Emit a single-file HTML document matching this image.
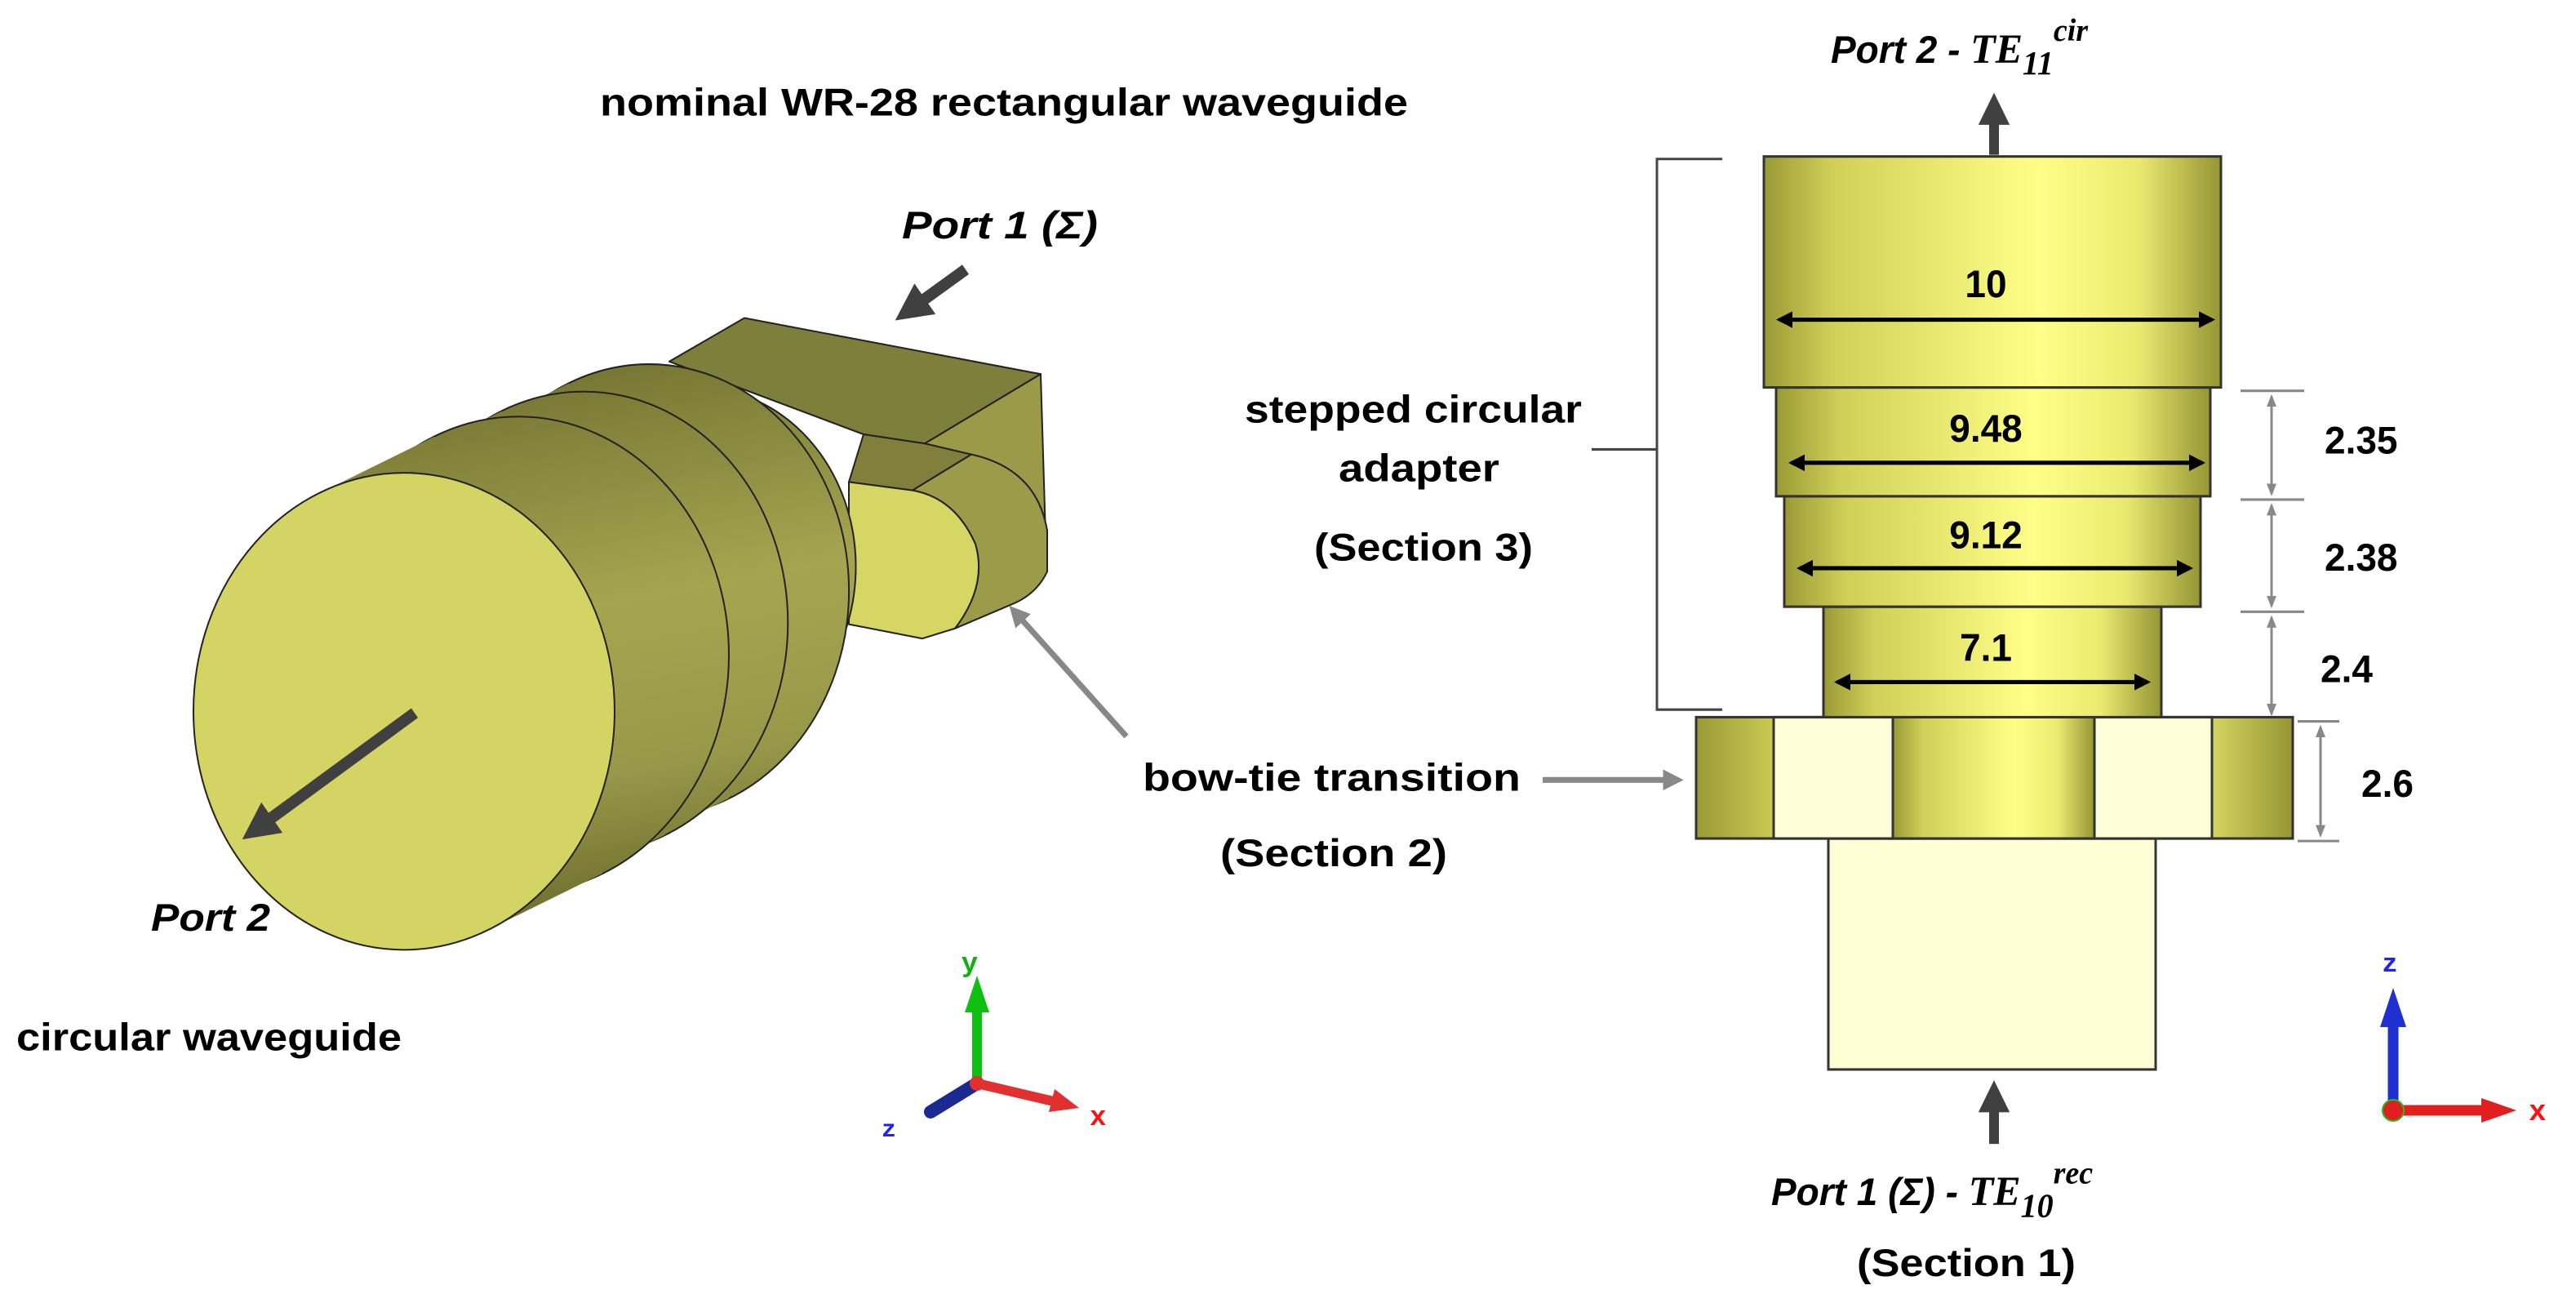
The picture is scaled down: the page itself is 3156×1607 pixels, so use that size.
<!DOCTYPE html>
<html><head><meta charset="utf-8"><style>
html,body{margin:0;padding:0;background:#fff;}
svg{display:block;}
text{font-family:"Liberation Sans",sans-serif;font-weight:bold;fill:#000;}
.it{font-style:italic;}
.ser{font-family:"Liberation Serif",serif;font-style:italic;font-weight:bold;}
</style></head><body>
<svg width="3156" height="1607" viewBox="0 0 3156 1607" xmlns="http://www.w3.org/2000/svg">
<defs>
<linearGradient id="side" gradientUnits="userSpaceOnUse" x1="600" y1="440" x2="720" y2="1100">
<stop offset="0" stop-color="#737332"/><stop offset="0.45" stop-color="#a5a550"/><stop offset="0.75" stop-color="#98984a"/><stop offset="1" stop-color="#6c6c2d"/></linearGradient>
<linearGradient id="cyl" x1="0" y1="0" x2="1" y2="0">
<stop offset="0" stop-color="#9a9a36"/><stop offset="0.15" stop-color="#d0d058"/><stop offset="0.6" stop-color="#ffff88"/><stop offset="0.82" stop-color="#eaea70"/><stop offset="1" stop-color="#959535"/></linearGradient>
<marker id="ah" viewBox="0 0 10 10" refX="5" refY="5" markerWidth="3.2" markerHeight="3.2" orient="auto"><path d="M0,0L10,5L0,10z" fill="#404040"/></marker>
<marker id="ag" viewBox="0 0 10 10" refX="5" refY="5" markerWidth="3.6" markerHeight="3.6" orient="auto"><path d="M0,0L10,5L0,10z" fill="#888"/></marker>
<marker id="ak" viewBox="0 0 10 10" refX="8" refY="5" markerWidth="4" markerHeight="4" orient="auto-start-reverse"><path d="M0,0L10,5L0,10z" fill="#000"/></marker>
<marker id="agd" viewBox="0 0 10 10" refX="8" refY="5" markerWidth="5" markerHeight="5" orient="auto-start-reverse"><path d="M0,1L10,5L0,9z" fill="#888"/></marker>
</defs>
<g transform="scale(1,1.025)">
<g stroke="#222" stroke-width="2" stroke-linejoin="round">
<polygon points="820,432 912,380 1275,447 1133,530 1058,519" fill="#7f7f3c"/>
<polygon points="1275,447 1282,673 1245,717 1133,530" fill="#9a9a48"/>
<polygon points="1040,576 1058,519 1133,530 1190,543 1118,586" fill="#80803c"/>
<path d="M1118,586 L1190,543 Q1270,560 1283,634 L1283,683 Q1270,710 1240,722 L1170,751 Q1210,700 1195,650 Q1170,595 1118,586z" fill="#9b9b4a"/>
<path d="M1040,576 L1118,586 Q1170,595 1195,650 Q1210,700 1170,751 L1130,763 L1040,746z" fill="#d6d665"/>
</g>
<g stroke="#222" stroke-width="2">
<ellipse cx="855" cy="677.2" rx="193.5" ry="213.8" fill="url(#side)"/>
<polygon points="872.3,901.8 932.3,873 777.7,481.4 717.7,510.2" fill="url(#side)" stroke="none"/>
<ellipse cx="795" cy="706" rx="193.5" ry="213.8" fill="url(#side)" stroke="none"/>
<ellipse cx="795" cy="706" rx="245.1" ry="270.8" fill="url(#side)"/>
<polygon points="812.9,992.4 892.9,954 697.1,458 617.1,496.4" fill="url(#side)" stroke="none"/>
<ellipse cx="715" cy="744.4" rx="245.1" ry="270.8" fill="url(#side)" stroke="none"/>
<ellipse cx="715" cy="744.4" rx="250.3" ry="276.5" fill="url(#side)"/>
<polygon points="734.9,1036 814.9,997.6 615.1,491.2 535.1,529.6" fill="url(#side)" stroke="none"/>
<ellipse cx="635" cy="782.8" rx="250.3" ry="276.5" fill="url(#side)" stroke="none"/>
<ellipse cx="635" cy="782.8" rx="258" ry="285" fill="url(#side)"/>
<polygon points="598,1111 738,1043.8 532,521.8 392,589" fill="url(#side)" stroke="none"/>
<ellipse cx="495" cy="850" rx="258" ry="285" fill="#d4d464"/>
</g>
<line x1="508" y1="852" x2="315" y2="990" stroke="#404040" stroke-width="14" marker-end="url(#ah)"/>
<line x1="1183" y1="322" x2="1115" y2="370" stroke="#404040" stroke-width="14" marker-end="url(#ah)"/>
<line x1="1380" y1="880" x2="1245" y2="733" stroke="#888" stroke-width="7" marker-end="url(#ag)"/>
<text x="735" y="138" font-size="46" textLength="990" lengthAdjust="spacingAndGlyphs">nominal WR-28 rectangular waveguide</text>
<text class="it" x="1105" y="285" font-size="46" textLength="240" lengthAdjust="spacingAndGlyphs">Port 1 (Σ)</text>
<text class="it" x="185" y="1112" font-size="46" textLength="146" lengthAdjust="spacingAndGlyphs">Port 2</text>
<text x="20" y="1255" font-size="46" textLength="472" lengthAdjust="spacingAndGlyphs">circular waveguide</text>
<text x="1400" y="945" font-size="46" textLength="463" lengthAdjust="spacingAndGlyphs">bow-tie transition</text>
<text x="1495" y="1035" font-size="46" textLength="278" lengthAdjust="spacingAndGlyphs">(Section 2)</text>
<text x="1525" y="505" font-size="46" textLength="413" lengthAdjust="spacingAndGlyphs">stepped circular</text>
<text x="1640" y="575" font-size="46" textLength="197" lengthAdjust="spacingAndGlyphs">adapter</text>
<text x="1610" y="670" font-size="46" textLength="268" lengthAdjust="spacingAndGlyphs">(Section 3)</text>
<line x1="1890" y1="932" x2="2050" y2="932" stroke="#888" stroke-width="7" marker-end="url(#ag)"/>
<polyline points="2110,190 2030,190 2030,848 2110,848" fill="none" stroke="#444" stroke-width="3"/>
<line x1="1950" y1="537" x2="2030" y2="537" stroke="#444" stroke-width="3"/>
<g stroke="#333" stroke-width="3">
<rect x="2240" y="1002" width="401" height="276" fill="#ffffd6"/>
<rect x="2078" y="857" width="731" height="145" fill="url(#cyl)"/>
<rect x="2173" y="857" width="146" height="145" fill="#fdfdd8"/>
<rect x="2566" y="857" width="144" height="145" fill="#fdfdd8"/>
<rect x="2319" y="857" width="247" height="145" fill="url(#cyl)"/>
<rect x="2234" y="725" width="414" height="132" fill="url(#cyl)"/>
<rect x="2186" y="593" width="510" height="132" fill="url(#cyl)"/>
<rect x="2176" y="463" width="532" height="130" fill="url(#cyl)"/>
<rect x="2161" y="187" width="560" height="276" fill="url(#cyl)"/>
</g>
<g stroke="#000" stroke-width="5">
<line x1="2180" y1="382" x2="2710" y2="382" marker-start="url(#ak)" marker-end="url(#ak)"/>
<line x1="2195" y1="553" x2="2698" y2="553" marker-start="url(#ak)" marker-end="url(#ak)"/>
<line x1="2205" y1="679" x2="2683" y2="679" marker-start="url(#ak)" marker-end="url(#ak)"/>
<line x1="2251" y1="815" x2="2631" y2="815" marker-start="url(#ak)" marker-end="url(#ak)"/>
</g>
<text x="2433" y="355" font-size="46" text-anchor="middle">10</text>
<text x="2433" y="528" font-size="46" text-anchor="middle">9.48</text>
<text x="2433" y="655" font-size="46" text-anchor="middle">9.12</text>
<text x="2433" y="790" font-size="46" text-anchor="middle">7.1</text>
<g stroke="#888" stroke-width="3">
<line x1="2745" y1="467" x2="2823" y2="467"/><line x1="2745" y1="597" x2="2823" y2="597"/><line x1="2745" y1="731" x2="2823" y2="731"/>
<line x1="2815" y1="862" x2="2866" y2="862"/><line x1="2815" y1="1005" x2="2866" y2="1005"/>
<line x1="2783" y1="474" x2="2783" y2="590" marker-start="url(#agd)" marker-end="url(#agd)"/>
<line x1="2783" y1="604" x2="2783" y2="724" marker-start="url(#agd)" marker-end="url(#agd)"/>
<line x1="2783" y1="738" x2="2783" y2="853" marker-start="url(#agd)" marker-end="url(#agd)"/>
<line x1="2843" y1="869" x2="2843" y2="998" marker-start="url(#agd)" marker-end="url(#agd)"/>
</g>
<text x="2848" y="542" font-size="46">2.35</text>
<text x="2848" y="682" font-size="46">2.38</text>
<text x="2843" y="815" font-size="46">2.4</text>
<text x="2893" y="952" font-size="46">2.6</text>
<line x1="2443" y1="185" x2="2443" y2="130" stroke="#404040" stroke-width="12" marker-end="url(#ah)"/>
<line x1="2443" y1="1367" x2="2443" y2="1310" stroke="#404040" stroke-width="12" marker-end="url(#ah)"/>
<text x="2243" y="75" font-size="46"><tspan class="it">Port 2 - </tspan><tspan class="ser" font-size="50">TE</tspan><tspan class="ser" font-size="40" dy="14">11</tspan><tspan class="ser" font-size="38" dy="-40">cir</tspan></text>
<text x="2170" y="1440" font-size="46"><tspan class="it">Port 1 (Σ) - </tspan><tspan class="ser" font-size="50">TE</tspan><tspan class="ser" font-size="40" dy="14">10</tspan><tspan class="ser" font-size="38" dy="-40">rec</tspan></text>
<text x="2275" y="1525" font-size="46" textLength="268" lengthAdjust="spacingAndGlyphs">(Section 1)</text>
</g>
<g stroke-linecap="round">
<line x1="1197" y1="1327" x2="1197" y2="1215" stroke="#10c010" stroke-width="12"/>
<path d="M1197,1195 L1212,1240 L1182,1240z" fill="#10c010"/>
<line x1="1197" y1="1327" x2="1295" y2="1350" stroke="#e03030" stroke-width="12"/>
<path d="M1322,1357 L1285,1362 L1292,1334z" fill="#e03030"/>
<line x1="1197" y1="1327" x2="1140" y2="1362" stroke="#1a2a90" stroke-width="16"/>
<circle cx="1197" cy="1327" r="9" fill="#e03030"/>
</g>
<text x="1188" y="1190" font-size="34" style="fill:#10b010;font-family:'Liberation Mono',monospace" text-anchor="middle">y</text>
<text x="1335" y="1378" font-size="34" style="fill:#ff1010;font-family:'Liberation Mono',monospace">x</text>
<text x="1080" y="1392" font-size="30" style="fill:#2020ff;font-family:'Liberation Mono',monospace">z</text>
<g>
<line x1="2932" y1="1360" x2="2932" y2="1240" stroke="#2030d0" stroke-width="13"/>
<path d="M2932,1210 L2948,1258 L2916,1258z" fill="#2030d0"/>
<line x1="2932" y1="1360" x2="3050" y2="1360" stroke="#e02020" stroke-width="13"/>
<path d="M3083,1360 L3040,1375 L3040,1345z" fill="#e02020"/>
<circle cx="2932" cy="1360" r="13" fill="#e02020" stroke="#20c020" stroke-width="2"/>
</g>
<text x="2928" y="1190" font-size="32" style="fill:#2020ff;font-family:'Liberation Mono',monospace" text-anchor="middle">z</text>
<text x="3098" y="1372" font-size="36" style="fill:#ff1010;font-family:'Liberation Mono',monospace">x</text>
</svg>
</body></html>
